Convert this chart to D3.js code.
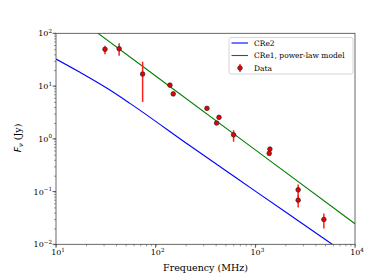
<!DOCTYPE html>
<html>
<head>
<meta charset="utf-8">
<script src="https://cdn.jsdelivr.net/npm/d3@7"></script>
<style>
  body { margin: 0; background: #fff; }
  text { font-family: "DejaVu Serif", serif; fill: #000; }
</style>
</head>
<body>
<svg id="chart" width="374" height="280"></svg>
<script>
// observed flux densities (MHz, Jy) with symmetric-ish errors
const freq = [31, 43, 74, 139, 150, 327, 432, 409, 605, 1400, 1378, 2690, 2690, 4870];
const flux = [49.7, 51, 16.9, 10.4, 7.1, 3.78, 2.55, 1.99, 1.19, 0.638, 0.529, 0.108, 0.0687, 0.0296];
const fluxLo = [40, 37.6, 5.0, 10.4, 7.1, 3.78, 2.55, 1.99, 0.877, 0.638, 0.529, 0.079, 0.0499, 0.020];
const fluxHi = [58, 64.6, 28.9, 10.4, 7.1, 3.78, 2.55, 1.99, 1.46, 0.638, 0.529, 0.136, 0.0855, 0.0384];

// CRe2 model curve
const cre2Freq = [10, 17.4, 33.5, 55.2, 221, 991, 5900, 10000];
const cre2Flux = [32.5, 18.2, 8.77, 4.70, 0.736, 0.103, 0.01, 0.005];

// CRe1 power-law model
const cre1Freq = [10, 100, 1000, 10000];
const cre1Flux = [389, 15.5, 0.617, 0.0245];

const xTicks = [10, 100, 1000, 10000];
const yTicks = [0.01, 0.1, 1, 10, 100];

const margin = {left: 56, right: 355, top: 33.3, bottom: 244.3};

const svg = d3.select("#chart");

const x = d3.scaleLog().domain([10, 10000]).range([margin.left, margin.right]);
const y = d3.scaleLog().domain([0.01, 100]).range([margin.bottom, margin.top]);

svg.append("defs").append("clipPath").attr("id", "clip")
  .append("rect")
  .attr("x", margin.left).attr("y", margin.top)
  .attr("width", margin.right - margin.left)
  .attr("height", margin.bottom - margin.top);

const line = d3.line().x(d => x(d[0])).y(d => y(d[1]));

const plot = svg.append("g").attr("clip-path", "url(#clip)");

plot.append("path")
  .datum(d3.zip(cre2Freq, cre2Flux))
  .attr("d", line.curve(d3.curveMonotoneX))
  .attr("fill", "none")
  .attr("stroke", "#0000ff")
  .attr("stroke-width", 1.1);

plot.append("path")
  .datum(d3.zip(cre1Freq, cre1Flux))
  .attr("d", line.curve(d3.curveLinear))
  .attr("fill", "none")
  .attr("stroke", "#008000")
  .attr("stroke-width", 1.1);

const pts = freq.map((f, i) => ({f: f, v: flux[i], lo: fluxLo[i], hi: fluxHi[i]}));

plot.selectAll(".err")
  .data(pts)
  .enter()
  .append("line")
  .attr("class", "err")
  .attr("x1", d => x(d.f))
  .attr("x2", d => x(d.f))
  .attr("y1", d => y(d.lo))
  .attr("y2", d => y(d.hi))
  .attr("stroke", "#ff2020")
  .attr("stroke-width", 1.5);

plot.selectAll(".pt")
  .data(pts)
  .enter()
  .append("circle")
  .attr("class", "pt")
  .attr("cx", d => x(d.f))
  .attr("cy", d => y(d.v))
  .attr("r", 2.3)
  .attr("fill", "#ee0000")
  .attr("stroke", "#222")
  .attr("stroke-width", 0.7);

// axes
const sup = { "1": "1", "2": "2", "3": "3", "4": "4", "-1": "\u22121", "-2": "\u22122", "0": "0" };

const xAxis = d3.axisBottom(x).tickSizeOuter(0).tickFormat("").tickSize(2);
svg.append("g")
  .attr("transform", "translate(0," + margin.bottom + ")")
  .call(xAxis)
  .call(g => g.selectAll("line").attr("stroke", "#555").attr("stroke-width", 0.6))
  .call(g => g.select(".domain").remove());

const yAxis = d3.axisLeft(y).tickSizeOuter(0).tickFormat("").tickSize(2);
svg.append("g")
  .attr("transform", "translate(" + margin.left + ",0)")
  .call(yAxis)
  .call(g => g.selectAll("line").attr("stroke", "#555").attr("stroke-width", 0.6))
  .call(g => g.select(".domain").remove());

// major ticks + labels
xTicks.forEach(t => {
  svg.append("line")
    .attr("x1", x(t)).attr("x2", x(t))
    .attr("y1", margin.bottom).attr("y2", margin.bottom + 3.5)
    .attr("stroke", "#333").attr("stroke-width", 0.8);
  const e = Math.round(Math.log10(t));
  const lab = svg.append("text")
    .attr("x", x(t) + 2)
    .attr("y", margin.bottom + 11)
    .attr("text-anchor", "middle")
    .attr("font-size", 8);
  lab.append("tspan").text("10");
  lab.append("tspan").attr("dy", -3.5).attr("font-size", 5.6).text(sup[e]);
});

yTicks.forEach(t => {
  svg.append("line")
    .attr("x1", margin.left - 3.5).attr("x2", margin.left)
    .attr("y1", y(t)).attr("y2", y(t))
    .attr("stroke", "#333").attr("stroke-width", 0.8);
  const e = Math.round(Math.log10(t));
  const lab = svg.append("text")
    .attr("x", margin.left - 4)
    .attr("y", y(t) + 3)
    .attr("text-anchor", "end")
    .attr("font-size", 8);
  lab.append("tspan").text("10");
  lab.append("tspan").attr("dy", -3.5).attr("font-size", 5.6).text(sup[e]);
});

// frame
svg.append("rect")
  .attr("x", margin.left).attr("y", margin.top)
  .attr("width", margin.right - margin.left)
  .attr("height", margin.bottom - margin.top)
  .attr("fill", "none")
  .attr("stroke", "#444")
  .attr("stroke-width", 0.8);

// axis titles
svg.append("text")
  .attr("x", (margin.left + margin.right) / 2)
  .attr("y", 271)
  .attr("text-anchor", "middle")
  .attr("font-size", 9.5)
  .text("Frequency (MHz)");

const yl = svg.append("text")
  .attr("transform", "translate(21,138) rotate(-90)")
  .attr("text-anchor", "middle")
  .attr("font-size", 9.5);
yl.append("tspan").attr("font-style", "italic").attr("font-family", "DejaVu Sans").text("F");
yl.append("tspan").attr("font-style", "italic").attr("font-family", "DejaVu Sans")
  .attr("font-size", 6.5).attr("dy", 2).text("\u03bd");
yl.append("tspan").attr("dy", -2).text(" (Jy)");

// legend
const legendItems = ["CRe2", "CRe1, power-law model", "Data"];
const legendColors = ["#0000ff", "#008000", null];
const lg = svg.append("g");
lg.append("rect")
  .attr("x", 229).attr("y", 37.5)
  .attr("width", 124).attr("height", 36.5)
  .attr("rx", 2)
  .attr("fill", "#fff")
  .attr("fill-opacity", 0.8)
  .attr("stroke", "#ccc")
  .attr("stroke-width", 0.8);

legendItems.forEach((name, i) => {
  const yy = 43 + i * 12.5;
  if (legendColors[i]) {
    lg.append("line")
      .attr("x1", 231.5).attr("x2", 248)
      .attr("y1", yy).attr("y2", yy)
      .attr("stroke", legendColors[i]).attr("stroke-width", 1.1);
  } else {
    lg.append("line")
      .attr("x1", 240).attr("x2", 240)
      .attr("y1", yy - 4).attr("y2", yy + 4)
      .attr("stroke", "#ff2020").attr("stroke-width", 1.5);
    lg.append("circle")
      .attr("cx", 240).attr("cy", yy).attr("r", 2.3)
      .attr("fill", "#ee0000").attr("stroke", "#222").attr("stroke-width", 0.7);
  }
  lg.append("text")
    .attr("x", 254).attr("y", yy + 2.7)
    .attr("font-size", 7.5)
    .text(name);
});
</script>
</body>
</html>
